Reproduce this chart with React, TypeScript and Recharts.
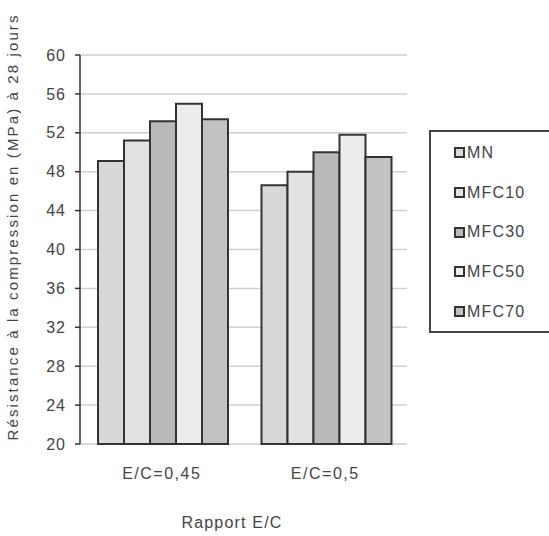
import { BarChart, Bar, XAxis, YAxis, CartesianGrid, Legend, Label, ReferenceLine } from 'recharts'

const categories = ['E/C=0,45', 'E/C=0,5']
const MN = [49.1, 46.6]
const MFC10 = [51.2, 48.0]
const MFC30 = [53.2, 50.0]
const MFC50 = [55.0, 51.8]
const MFC70 = [53.4, 49.5]
const yTicks = [20, 24, 28, 32, 36, 40, 44, 48, 52, 56, 60]

const series = [
  { key: 'MN', values: MN, color: '#d8d8d8' },
  { key: 'MFC10', values: MFC10, color: '#e2e2e2' },
  { key: 'MFC30', values: MFC30, color: '#b9b9b9' },
  { key: 'MFC50', values: MFC50, color: '#ececec' },
  { key: 'MFC70', values: MFC70, color: '#c2c2c2' },
]

const data = categories.map((name, i) => {
  const row: Record<string, string | number> = { name }
  series.forEach((s) => (row[s.key] = s.values[i]))
  return row
})

const font = "'Liberation Sans', Arial, sans-serif"

function LegendBox() {
  return (
    <div
      style={{
        width: 130,
        height: 203,
        border: '2px solid #444',
        boxSizing: 'border-box',
        background: '#fff',
        paddingTop: 1,
        fontFamily: font,
        fontSize: 16,
        color: '#444',
      }}
    >
      {series.map((s) => (
        <div key={s.key} style={{ display: 'flex', alignItems: 'center', height: 39.7, paddingLeft: 23 }}>
          <span
            style={{
              display: 'inline-block',
              width: 7,
              height: 7,
              background: s.color,
              border: '2px solid #333',
              marginRight: 2,
            }}
          />
          <span style={{ letterSpacing: 1.2 }}>{s.key}</span>
        </div>
      ))}
    </div>
  )
}

export default function App() {
  return (
    <div style={{ position: 'absolute', left: 0, top: 0, background: '#fff' }}>
      <BarChart
        width={549}
        height={536}
        data={data}
        margin={{ top: 55, right: 142, bottom: 0, left: 0 }}
        barCategoryGap={18}
        barGap={0}
      >
        <CartesianGrid xAxisId='cat' vertical={false} stroke='#cfcfcf' strokeWidth={1.5} />
        <XAxis
          xAxisId='edge'
          type='number'
          domain={[0, 2]}
          ticks={[0, 1, 2]}
          height={0}
          tick={false}
          tickSize={5}
          stroke='#333'
          strokeWidth={1.5}
        />
        <XAxis
          xAxisId='cat'
          dataKey='name'
          height={92}
          axisLine={false}
          tickLine={false}
          tick={{ fill: '#444', fontSize: 16, fontFamily: font, letterSpacing: 1.5 }}
          tickMargin={18}
        >
          <Label
            content={() => (
              <text
                x={232}
                y={528}
                textAnchor='middle'
                fill='#444'
                fontSize={16}
                fontFamily={font}
                letterSpacing={1.2}
              >
                Rapport E/C
              </text>
            )}
          />
        </XAxis>
        <YAxis
          width={80}
          domain={[20, 60]}
          ticks={yTicks}
          interval={0}
          stroke='#333'
          strokeWidth={1.5}
          tickSize={5}
          tickMargin={9}
          tick={{ fill: '#444', fontSize: 16, fontFamily: font, letterSpacing: 1 }}
        >
          <Label
            content={() => (
              <text
                x={18}
                y={228}
                transform='rotate(-90 18 228)'
                textAnchor='middle'
                fill='#444'
                fontSize={15}
                fontFamily={font}
                textLength={425}
                lengthAdjust='spacing'
              >
                Résistance à la compression en (MPa) à 28 jours
              </text>
            )}
          />
        </YAxis>
        <ReferenceLine xAxisId='edge' x={2} stroke='#cfcfcf' strokeWidth={1.5} />
        <Legend
          layout='vertical'
          align='center'
          verticalAlign='middle'
          wrapperStyle={{ position: 'absolute', left: 429, top: 130, width: 130 }}
          content={() => <LegendBox />}
        />
        {series.map((s) => (
          <Bar
            key={s.key}
            xAxisId='cat'
            dataKey={s.key}
            fill={s.color}
            stroke='#333'
            strokeWidth={2}
            isAnimationActive={false}
          />
        ))}
      </BarChart>
    </div>
  )
}
